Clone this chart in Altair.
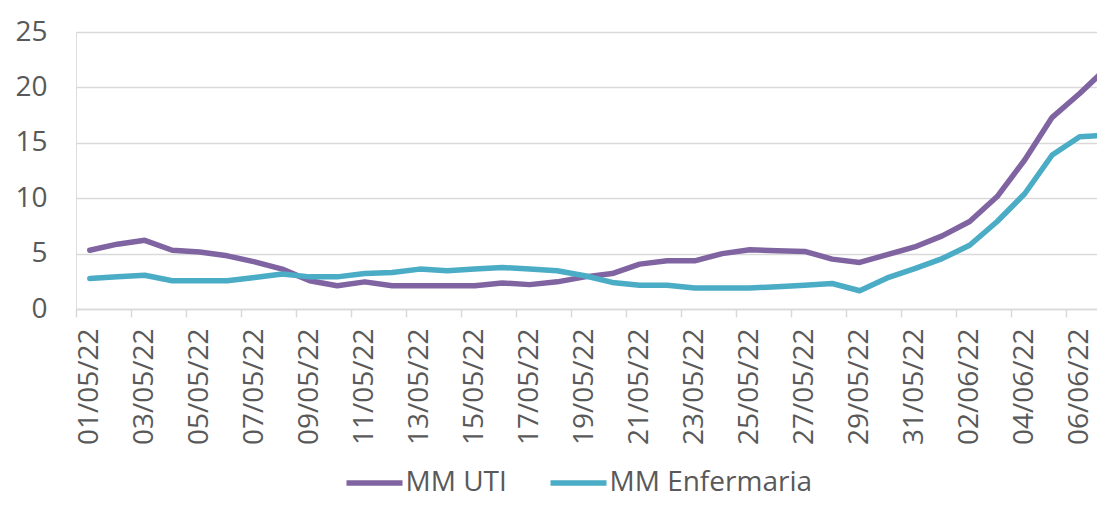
import json
import altair as alt
import pandas as pd

dates = [
    "01/05/22", "02/05/22", "03/05/22", "04/05/22", "05/05/22", "06/05/22",
    "07/05/22", "08/05/22", "09/05/22", "10/05/22", "11/05/22", "12/05/22",
    "13/05/22", "14/05/22", "15/05/22", "16/05/22", "17/05/22", "18/05/22",
    "19/05/22", "20/05/22", "21/05/22", "22/05/22", "23/05/22", "24/05/22",
    "25/05/22", "26/05/22", "27/05/22", "28/05/22", "29/05/22", "30/05/22",
    "31/05/22", "01/06/22", "02/06/22", "03/06/22", "04/06/22", "05/06/22",
    "06/06/22", "07/06/22",
]
mm_uti = [
    5.3, 5.85, 6.2, 5.3, 5.15, 4.8, 4.25, 3.6, 2.55, 2.1,
    2.45, 2.1, 2.1, 2.1, 2.1, 2.35, 2.2, 2.45, 2.9, 3.2,
    4.05, 4.35, 4.35, 5.0, 5.35, 5.25, 5.2, 4.5, 4.2, 4.9,
    5.6, 6.6, 7.9, 10.15, 13.45, 17.3, 19.45, 21.8,
]
mm_enf = [
    2.75, 2.9, 3.05, 2.55, 2.55, 2.55, 2.85, 3.15, 2.9, 2.9,
    3.2, 3.3, 3.6, 3.45, 3.6, 3.75, 3.6, 3.45, 3.0, 2.4,
    2.15, 2.15, 1.9, 1.9, 1.9, 2.0, 2.15, 2.3, 1.65, 2.8,
    3.65, 4.55, 5.75, 7.9, 10.4, 13.9, 15.55, 15.7,
]
series_names = ["MM UTI", "MM Enfermaria"]
series_colors = ["#8064A2", "#4BACC6"]
y_ticks = [0, 5, 10, 15, 20, 25]

rows = []
for name, vals in zip(series_names, [mm_uti, mm_enf]):
    for i, v in enumerate(vals):
        rows.append({"idx": i, "serie": name, "valor": v})
df = pd.DataFrame(rows)

W, H = 1021, 277
x_min, x_max = -0.5, 36.63
band = W / (x_max - x_min)
tick_vals = [i - 0.5 for i in range(0, len(dates) - 1, 2)]
label_expr = f"{json.dumps(dates)}[round(datum.value + 0.5)]"

FONT = "Open Sans"
TXT = "#595959"
GRID = "#D9D9D9"

chart = alt.Chart(df).mark_line(
    strokeWidth=5.5, clip=True, strokeJoin="round", strokeCap="round"
).encode(
    x=alt.X(
        "idx:Q",
        scale=alt.Scale(domain=[x_min, x_max], nice=False, zero=False),
        axis=alt.Axis(
            title=None,
            values=tick_vals,
            labelExpr=label_expr,
            labelAngle=-90,
            labelAlign="right",
            labelBaseline="middle",
            labelOffset=band / 2,
            labelPadding=11,
            labelOverlap=False,
            labelFlush=False,
            labelFont=FONT,
            labelFontSize=28,
            labelColor=TXT,
            grid=False,
            ticks=True,
            tickSize=8,
            tickColor=GRID,
            tickWidth=1.5,
            domain=True,
            domainColor=GRID,
            domainWidth=1.5,
        ),
    ),
    y=alt.Y(
        "valor:Q",
        scale=alt.Scale(domain=[0, 25], nice=False),
        axis=alt.Axis(
            title=None,
            values=y_ticks,
            labelFont=FONT,
            labelFontSize=28,
            labelColor=TXT,
            labelPadding=29,
            ticks=False,
            domain=False,
            grid=True,
            gridColor=GRID,
            gridWidth=1.5,
        ),
    ),
    color=alt.Color(
        "serie:N",
        sort=series_names,
        scale=alt.Scale(domain=series_names, range=series_colors),
        legend=alt.Legend(
            title=None,
            orient="none",
            legendX=267.5,
            legendY=420,
            direction="horizontal",
            symbolType="stroke",
            symbolSize=3136,
            symbolStrokeWidth=5.5,
            labelFont=FONT,
            labelFontSize=28,
            labelColor=TXT,
            labelOffset=0,
            labelLimit=0,
            columnPadding=32,
            padding=0,
        ),
    ),
).properties(
    width=W,
    height=H,
    autosize=alt.AutoSizeParams(type="none"),
    padding={"left": 68, "top": 24, "right": 0, "bottom": 191},
).configure_view(stroke=None).configure(background="white")

chart.save("out.html", embed_options={"renderer": "svg", "actions": False})
